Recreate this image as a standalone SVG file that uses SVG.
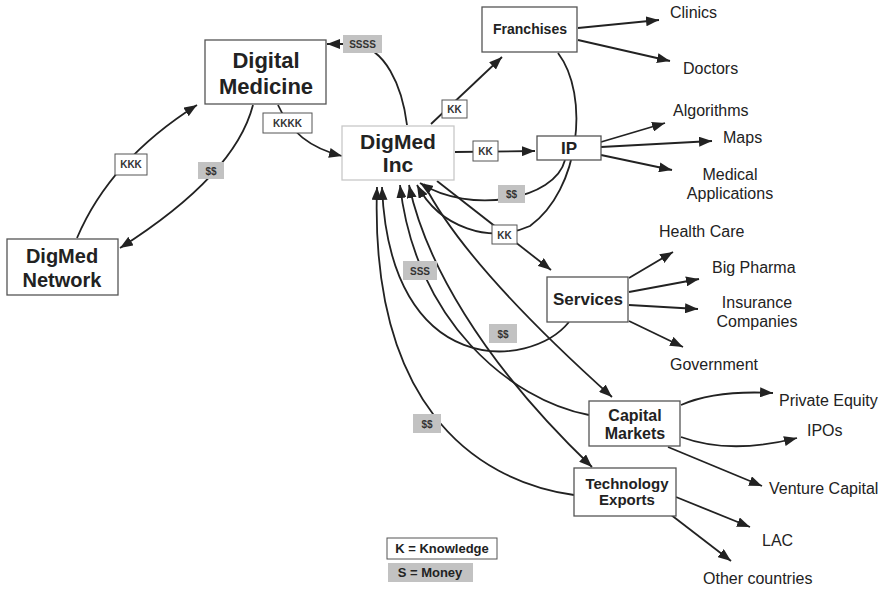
<svg xmlns="http://www.w3.org/2000/svg" width="889" height="589" viewBox="0 0 889 589">
<defs>
<marker id="ah" viewBox="0 0 13 10" refX="13" refY="5" markerWidth="13" markerHeight="10" markerUnits="userSpaceOnUse" orient="auto-start-reverse"><path d="M0,0 L13,5 L0,10 z" fill="#222"/></marker>
<style>
.c{fill:none;stroke:#222;stroke-width:1.8;marker-end:url(#ah)}
.n{fill:#fff;stroke:#555;stroke-width:1.3}
.t{font-family:"Liberation Sans",Arial,sans-serif;font-weight:bold;fill:#222;text-anchor:middle}
.lw{fill:#fff;stroke:#555;stroke-width:1}
.lg{fill:#c2c2c2}
.lt{font-family:"Liberation Sans",Arial,sans-serif;font-weight:bold;font-size:10px;fill:#333;text-anchor:middle}
.leaf{font-family:"Liberation Sans",Arial,sans-serif;font-size:16px;fill:#222}
</style>
</defs>
<rect width="889" height="589" fill="#fff"/>
<g id="connectors">
<path class="c" d="M77,238 Q110,160 197,105"/>
<path class="c" d="M253,105 Q235,175 120,248"/>
<path class="c" d="M278,105 C290,132 310,148 342,156"/>
<path class="c" d="M407,125 C402,85 385,48 355,44 L327,44"/>
<path class="c" d="M431,124 L502,57"/>
<path class="c" d="M455,152 L535,151"/>
<path class="c" d="M558,53 C590,95 580,190 530,226 C490,244 440,228 417,185"/>
<path class="c" d="M565,160 C555,200 470,215 420,183"/>
<path class="c" d="M437,181 L551,270"/>
<path class="c" d="M569,322 C530,370 390,380 382,187"/>
<path class="c" d="M424,184 Q465,265 612,397"/>
<path class="c" d="M589,415 C510,400 415,320 400,185"/>
<path class="c" style="marker-start:url(#ah)" d="M409,185 C425,260 480,360 592,467"/>
<path class="c" d="M574,495 C470,480 370,400 377,187"/>
<path class="c" d="M578,28 L659,20"/>
<path class="c" d="M578,40 L670,61"/>
<path class="c" d="M601,142 L665,123"/>
<path class="c" d="M601,147 L712,141"/>
<path class="c" d="M601,155 L672,170"/>
<path class="c" d="M629,278 L673,252"/>
<path class="c" d="M629,292 L699,279"/>
<path class="c" d="M629,305 L698,309"/>
<path class="c" d="M629,321 L683,347"/>
<path class="c" d="M681,405 Q715,390 773,393"/>
<path class="c" d="M681,437 Q730,455 797,438"/>
<path class="c" d="M668,447 L762,486"/>
<path class="c" d="M676,497 L750,527"/>
<path class="c" d="M666,511 L731,561"/>
</g>
<g id="edge-labels">
<rect class="lg" x="343" y="35" width="39" height="18"/><text class="lt" x="362.5" y="47.5">SSSS</text>
<rect class="lw" x="263" y="113" width="49" height="20"/><text class="lt" x="287.5" y="127">KKKK</text>
<rect class="lw" x="115" y="154" width="32" height="21"/><text class="lt" x="131" y="168">KKK</text>
<rect class="lg" x="198" y="162" width="26" height="17"/><text class="lt" x="211" y="174.5">$$</text>
<rect class="lw" x="442" y="100" width="25" height="18"/><text class="lt" x="454.5" y="113">KK</text>
<rect class="lw" x="473" y="141" width="25" height="20"/><text class="lt" x="485.5" y="155">KK</text>
<rect class="lg" x="498" y="185" width="27" height="18"/><text class="lt" x="511.5" y="198">$$</text>
<rect class="lw" x="492" y="225" width="25" height="19"/><text class="lt" x="504.5" y="238.5">KK</text>
<rect class="lg" x="403" y="261" width="34" height="19"/><text class="lt" x="420" y="274.5">SSS</text>
<rect class="lg" x="489" y="324" width="28" height="19"/><text class="lt" x="503" y="337.5">$$</text>
<rect class="lg" x="413" y="414" width="28" height="19"/><text class="lt" x="427" y="427.5">$$</text>
</g>
<g id="digital-medicine"><rect class="n" x="205" y="40" width="121" height="64"/><text class="t" x="266" y="68" font-size="22">Digital</text><text class="t" x="266" y="94" font-size="22">Medicine</text></g>
<g id="digmed-network"><rect class="n" x="7" y="239" width="111" height="56"/><text class="t" x="62" y="263" font-size="20">DigMed</text><text class="t" x="62" y="287" font-size="20">Network</text></g>
<g id="digmed-inc"><rect x="342" y="126" width="112" height="54" fill="#fff" stroke="#c8c8c8" stroke-width="1.3"/><text class="t" x="398" y="149" font-size="21">DigMed</text><text class="t" x="398" y="172" font-size="21">Inc</text></g>
<g id="franchises"><rect class="n" x="482" y="7" width="95" height="45"/><text class="t" x="530" y="34" font-size="14">Franchises</text></g>
<g id="ip"><rect class="n" x="537" y="136" width="64" height="24"/><text class="t" x="569" y="154" font-size="17">IP</text></g>
<g id="services"><rect class="n" x="547" y="277" width="81" height="45"/><text class="t" x="588" y="305" font-size="17">Services</text></g>
<g id="capital-markets"><rect class="n" x="589" y="401" width="91" height="45"/><text class="t" x="635" y="421" font-size="16">Capital</text><text class="t" x="635" y="439" font-size="16">Markets</text></g>
<g id="technology-exports"><rect class="n" x="574" y="468" width="102" height="48"/><text class="t" x="627" y="489" font-size="15">Technology</text><text class="t" x="627" y="505" font-size="15">Exports</text></g>
<g id="leaves">
<text class="leaf" x="670" y="18">Clinics</text>
<text class="leaf" x="683" y="74">Doctors</text>
<text class="leaf" x="673" y="116">Algorithms</text>
<text class="leaf" x="723" y="143">Maps</text>
<text class="leaf" x="730" y="180" text-anchor="middle">Medical</text>
<text class="leaf" x="730" y="199" text-anchor="middle">Applications</text>
<text class="leaf" x="659" y="237">Health Care</text>
<text class="leaf" x="712" y="273">Big Pharma</text>
<text class="leaf" x="757" y="308" text-anchor="middle">Insurance</text>
<text class="leaf" x="757" y="327" text-anchor="middle">Companies</text>
<text class="leaf" x="670" y="370">Government</text>
<text class="leaf" x="779" y="406">Private Equity</text>
<text class="leaf" x="807" y="436">IPOs</text>
<text class="leaf" x="769" y="494">Venture Capital</text>
<text class="leaf" x="762" y="546">LAC</text>
<text class="leaf" x="703" y="584">Other countries</text>
</g>
<g id="legend">
<rect class="lw" x="387" y="538" width="110" height="21"/><text class="t" x="442" y="553" font-size="13">K = Knowledge</text>
<rect class="lg" x="388" y="563" width="85" height="19"/><text class="t" x="430" y="577" font-size="13">S = Money</text>
</g>
</svg>
